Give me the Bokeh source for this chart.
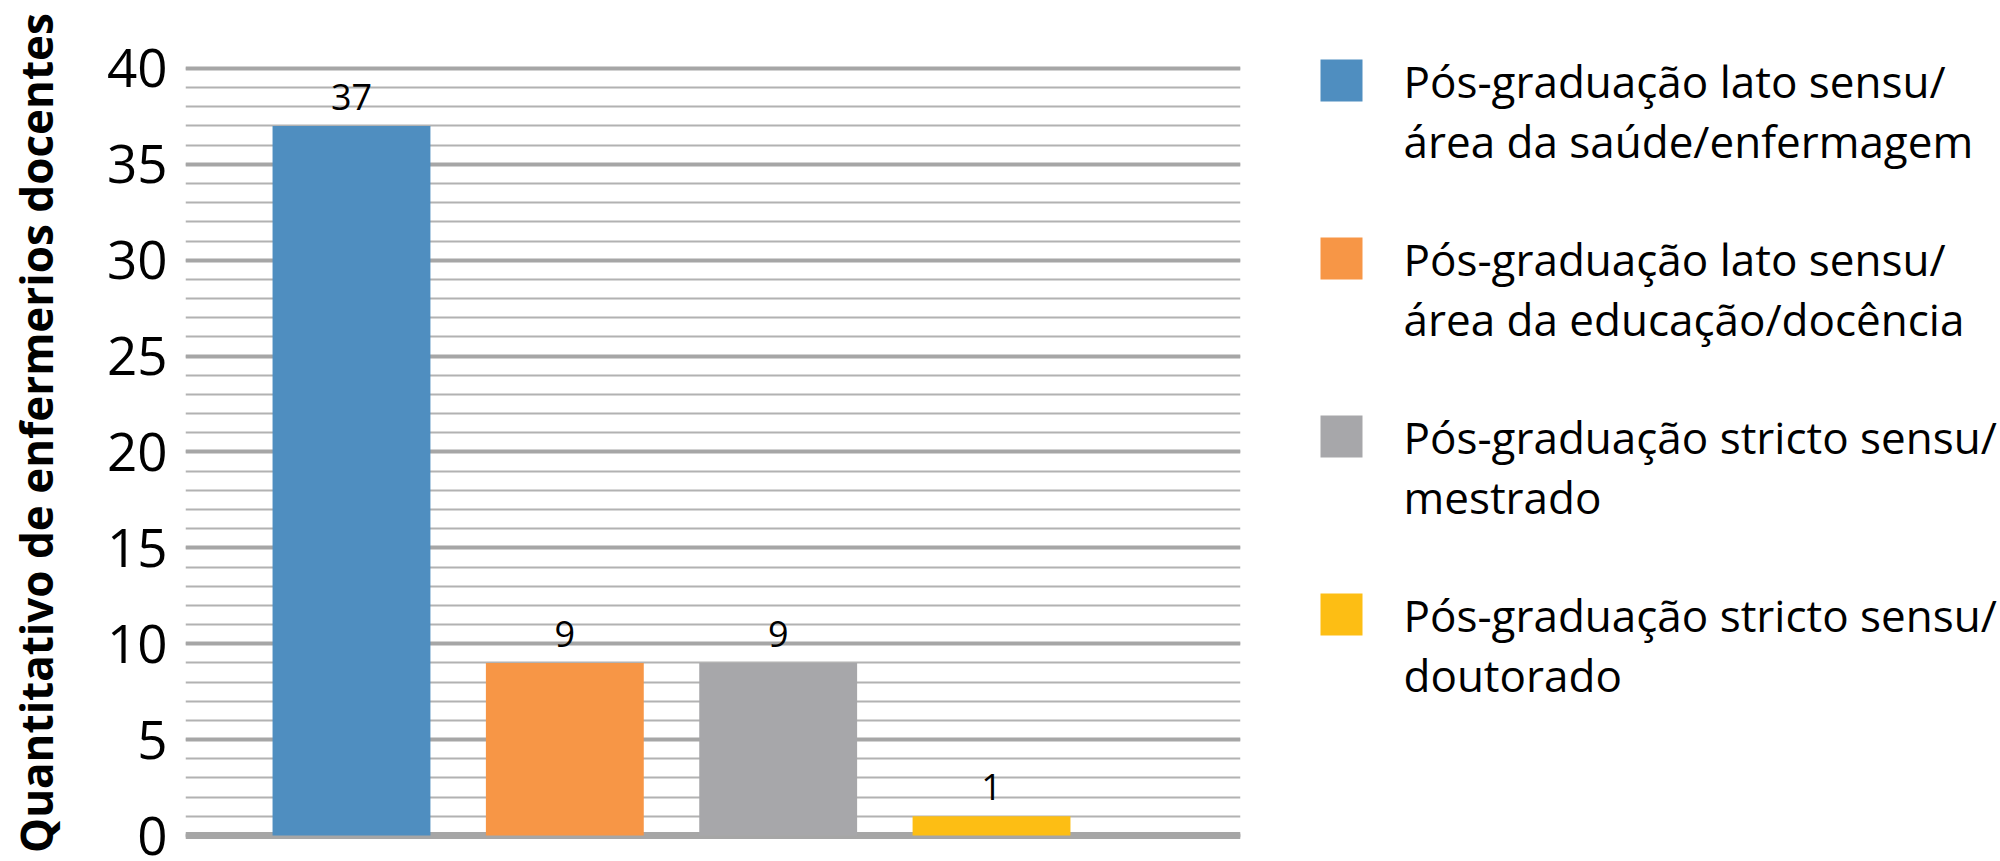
from bokeh.plotting import figure
from bokeh.models import Range1d, SingleIntervalTicker, Span, ColumnDataSource
from bokeh.layouts import row
from bokeh.embed import file_html
from bokeh.resources import INLINE
from bokeh.core.properties import value

# ---- data ----
categories = [
    "Pós-graduação lato sensu/\nárea da saúde/enfermagem",
    "Pós-graduação lato sensu/\nárea da educação/docência",
    "Pós-graduação stricto sensu/\nmestrado",
    "Pós-graduação stricto sensu/\ndoutorado",
]
counts = [37, 9, 9, 1]
colors = ["#4F8EC0", "#F79646", "#A7A7AA", "#FDBE14"]
y_tick_step = 5
y_max = 40
y_label = "Quantitativo de enfermerios docentes"

FONT = "Open Sans"
H = 858
TOP, BOTTOM = 20, H - 20 - 825
MAIN_W = 1250
LW = 750

positions = [i + 1 for i in range(len(counts))]
src = ColumnDataSource(dict(
    x=positions, top=counts, color=colors, label=[str(c) for c in counts]
))

# ---- main chart ----
p = figure(
    width=MAIN_W, height=H,
    x_range=Range1d(0.222, 5.167), y_range=Range1d(-0.52, 42.5),
    x_axis_type=None,
    output_backend="svg", toolbar_location=None,
    min_border_left=185, min_border_right=10, min_border_top=TOP,
    min_border_bottom=BOTTOM,
)
p.outline_line_color = None

ticker = SingleIntervalTicker(interval=y_tick_step, num_minor_ticks=5)
p.yaxis.ticker = ticker
p.ygrid.ticker = ticker
p.ygrid.bounds = (0, y_max)
p.ygrid.grid_line_color = "#A6A6A6"
p.ygrid.grid_line_width = 4
p.ygrid.minor_grid_line_color = "#B2B2B2"
p.ygrid.minor_grid_line_width = 2

ax = p.yaxis[0]
ax.axis_line_color = None
ax.major_tick_line_color = None
ax.minor_tick_line_color = None
ax.major_label_standoff = 12
ax.major_label_text_font = FONT
ax.major_label_text_font_size = "53px"
ax.major_label_text_color = "black"
ax.axis_label = y_label
ax.axis_label_text_font = FONT
ax.axis_label_text_font_style = "bold"
ax.axis_label_text_font_size = "44px"
ax.axis_label_text_color = "black"
ax.axis_label_standoff = 38

zero = Span(location=0, dimension="width", line_color="#A6A6A6", line_width=7, level="underlay")
p.add_layout(zero)

p.vbar(x="x", top="top", bottom=0, width=0.74, color="color", line_color=None, source=src)
p.text(x="x", y="top", text="label", y_offset=-16, text_align="center",
       text_baseline="bottom", text_font=value(FONT), text_font_size="36px",
       text_color="black", source=src)

# ---- legend panel (data units = page pixels) ----
leg = figure(
    width=LW, height=H,
    x_range=Range1d(MAIN_W, MAIN_W + LW), y_range=Range1d(H - BOTTOM, TOP),
    x_axis_type=None, y_axis_type=None,
    output_backend="svg", toolbar_location=None,
    min_border_left=0, min_border_right=0, min_border_top=TOP, min_border_bottom=BOTTOM,
)
leg.outline_line_color = None
leg_y = [80 + 178 * i for i in range(len(categories))]
line1 = [c.split("\n")[0] for c in categories]
line2 = [c.split("\n")[1] for c in categories]
leg_src = ColumnDataSource(dict(
    y=leg_y, y2=[v + 60 for v in leg_y], color=colors, l1=line1, l2=line2
))
leg.rect(x=1341, y="y", width=42, height=42, color="color", line_color=None, source=leg_src)
for col, ycol in (("l1", "y"), ("l2", "y2")):
    leg.text(x=1403, y=ycol, text=col, text_align="left", text_baseline="middle",
             text_font=value(FONT), text_font_size="44px",
             text_color="black", source=leg_src)

layout = row(p, leg, spacing=0)
open("out.html", "w").write(file_html(layout, INLINE))
